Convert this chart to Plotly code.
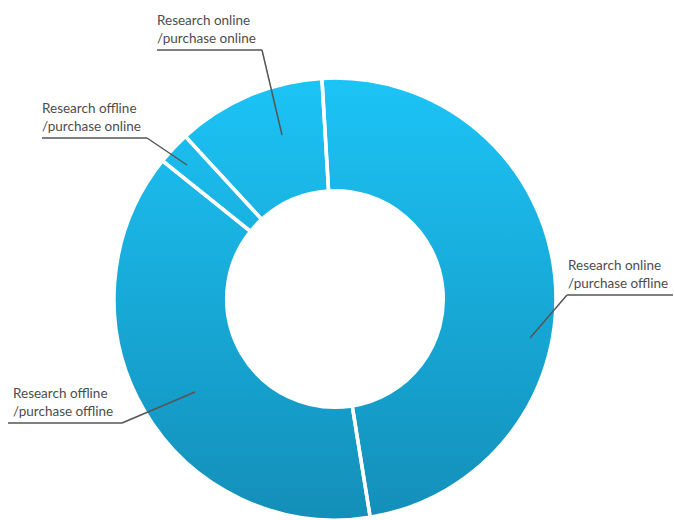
import numpy as np
import plotly.graph_objects as go

# ---- data ----
labels = ["Research online<br>/purchase offline",
          "Research offline<br>/purchase offline",
          "Research offline<br>/purchase online",
          "Research online<br>/purchase online"]
values = [48.4, 38.3, 2.4, 10.9]

# ---- styling / layout constants ----
W, H = 674, 520
CX, CY, R = 335, 299, 221
HOLE = 0.49
TOP_COLOR = "#1CC4F6"
BOTTOM_COLOR = "#138FB9"
TEXT_COLOR = "#4d4d4d"
LINE_COLOR = "#555555"

# label placement: (text left x, underline y, underline x0, underline x1, leader end x, leader end y, leader side)
label_pos = [
    (566, 295, 567, 673, 530, 338, "left"),
    (11, 423, 8, 122, 195, 392, "right"),
    (40, 138, 42, 147, 187, 165, "right"),
    (155, 50, 157, 262, 282, 135, "right"),
]

fig = go.Figure()

# gradient ring behind the (transparent) pie slices
t = np.linspace(0, 2 * np.pi, 361)
xo = CX + R * np.cos(t)
yo = CY + R * np.sin(t)
xi = CX + R * HOLE * np.cos(t[::-1])
yi = CY + R * HOLE * np.sin(t[::-1])
fig.add_trace(go.Scatter(
    x=np.concatenate([xo, xi]), y=np.concatenate([yo, yi]),
    mode="lines", fill="toself", line=dict(width=0),
    fillgradient=dict(type="vertical",
                      colorscale=[[0, BOTTOM_COLOR], [1, TOP_COLOR]]),
    hoverinfo="skip", showlegend=False,
))

fig.add_trace(go.Pie(
    labels=labels, values=values, sort=False, direction="clockwise",
    rotation=-3.4, hole=HOLE, textinfo="none",
    marker=dict(colors=["rgba(0,0,0,0)"] * len(values),
                line=dict(color="white", width=3.5)),
    domain=dict(x=[(CX - R) / W, (CX + R) / W],
                y=[(H - CY - R) / H, (H - CY + R) / H]),
    showlegend=False,
))

shapes = []
annotations = []
for lab, (tx, uy, ux0, ux1, ex, ey, side) in zip(labels, label_pos):
    annotations.append(dict(
        x=tx, y=uy - 2, xref="x", yref="y", text=lab, showarrow=False,
        xanchor="left", yanchor="bottom", align="left",
        font=dict(family="Lato", size=13.5, color=TEXT_COLOR),
    ))
    shapes.append(dict(type="line", xref="x", yref="y", x0=ux0, x1=ux1,
                       y0=uy, y1=uy, line=dict(color=LINE_COLOR, width=1.5),
                       layer="above"))
    sx = ux0 if side == "left" else ux1
    shapes.append(dict(type="line", xref="x", yref="y", x0=sx, y0=uy,
                       x1=ex, y1=ey, line=dict(color=LINE_COLOR, width=1.5),
                       layer="above"))

fig.update_layout(
    width=W, height=H, margin=dict(l=0, r=0, t=0, b=0),
    paper_bgcolor="white", plot_bgcolor="white",
    xaxis=dict(range=[0, W], visible=False, fixedrange=True),
    yaxis=dict(range=[H, 0], visible=False, fixedrange=True),
    shapes=shapes, annotations=annotations,
)

fig.write_html("out.html")
